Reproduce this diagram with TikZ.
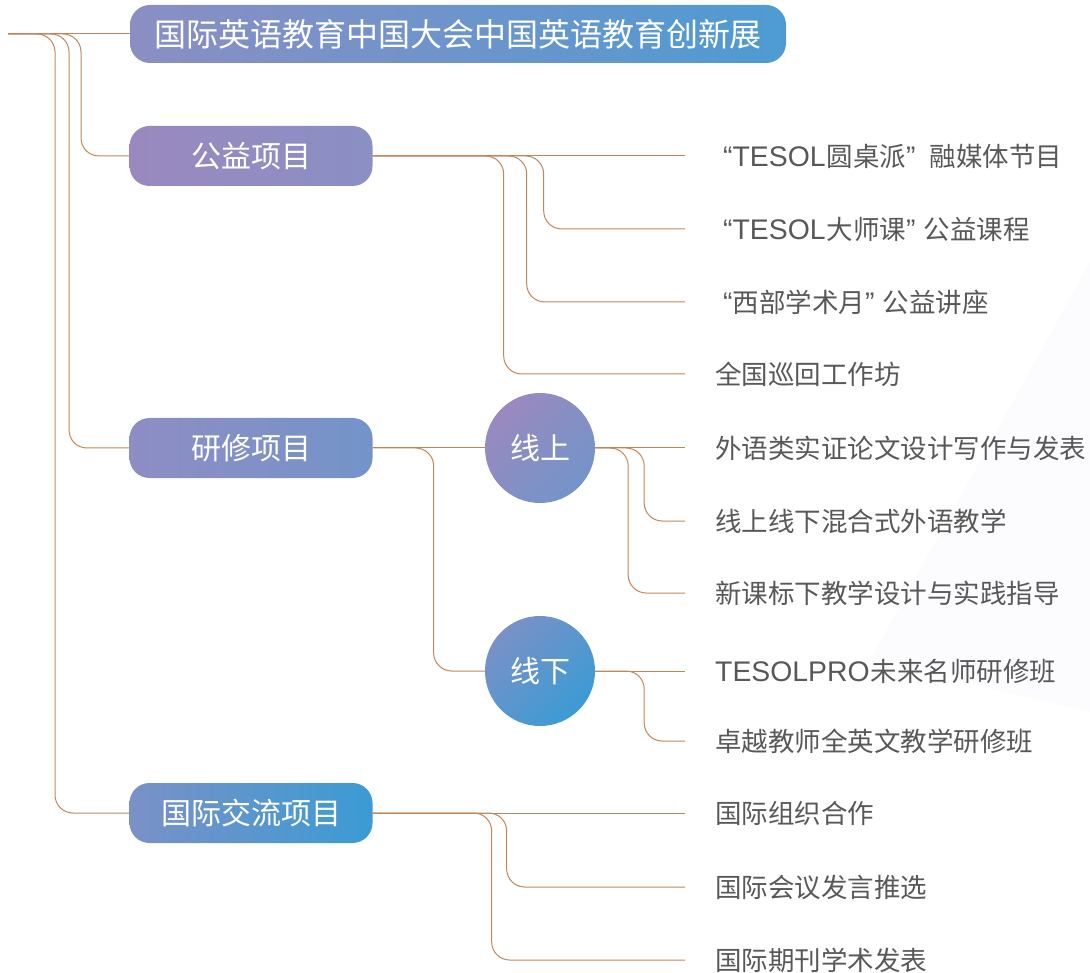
\documentclass[tikz,border=0pt]{standalone}
\usepackage{fontspec}
\setmainfont{Noto Sans CJK SC}
\newfontfamily\latinfont[Scale=1.07]{Liberation Sans}
\usepackage{tikz}
\usetikzlibrary{shapes}
\usetikzlibrary{positioning}

\definecolor{linkbrown}{HTML}{C0875A}
\definecolor{leafgray}{HTML}{585858}
\definecolor{watermark}{HTML}{FCFCFE}
\definecolor{titleA}{HTML}{8B8EC3}
\definecolor{titleB}{HTML}{4E9BD3}
\definecolor{gongyiA}{HTML}{9A89BF}
\definecolor{gongyiB}{HTML}{8A8FC4}
\definecolor{yanxiuA}{HTML}{8E8DC4}
\definecolor{yanxiuB}{HTML}{7394C9}
\definecolor{jiaoliuA}{HTML}{7A91C7}
\definecolor{jiaoliuB}{HTML}{3B9BD4}

\newcommand{\openq}{\hspace{8pt}{\latinfont “}}
\newcommand{\closeq}{{\latinfont ”}\hspace{8pt}}
\newcommand{\tesol}[1]{{\latinfont #1}\hspace{1pt}}

\tikzset{
  link/.style={draw=linkbrown, line width=1pt, rounded corners=18pt},
  topic/.style={text=white, minimum width=243pt, minimum height=60pt, rounded corners=20pt,
    font=\fontsize{30}{34}\selectfont},
  subtopic/.style={circle, text=white, minimum size=110pt, inner sep=0pt,
    font=\fontsize{30}{34}\selectfont},
  leaf/.style={anchor=west, text=leafgray, inner xsep=30pt, inner ysep=0pt,
    font=\fontsize{26.5}{30}\selectfont}
}

\begin{document}
\begin{tikzpicture}[x=1pt, y=-1pt]
    \useasboundingbox (0,0) rectangle (1090,973);
    \fill [watermark] (1090,262) -- (870,660) -- (1090,712) -- cycle;

    \coordinate (root) at (8,34);
    \node [topic, minimum width=656pt, minimum height=58pt, left color=titleA, right color=titleB,
      font=\fontsize{32}{36}\selectfont] (title) at (458,34) {国际英语教育中国大会中国英语教育创新展};

    \node [topic, left color=gongyiA, right color=gongyiB] (gongyi) at (251,156) {公益项目};
    \node [topic, left color=yanxiuA, right color=yanxiuB] (yanxiu) at (251,448) {研修项目};
    \node [topic, left color=jiaoliuA, right color=jiaoliuB] (jiaoliu) at (251,813) {国际交流项目};

    \node [subtopic, left color=gongyiA, right color=yanxiuB, shading angle=45] (online) at (540,448) {线上};
    \node [subtopic, left color=jiaoliuA, right color=jiaoliuB, shading angle=45] (offline) at (540,671) {线下};

    \node [leaf] (gy1) at (685,156) {\openq\tesol{TESOL}圆桌派\closeq\hspace{6pt}融媒体节目};
    \node [leaf] (gy2) at (685,229) {\openq\tesol{TESOL}大师课\closeq 公益课程};
    \node [leaf] (gy3) at (685,302) {\openq 西部学术月\closeq 公益讲座};
    \node [leaf] (gy4) at (685,374) {全国巡回工作坊};

    \node [leaf] (on1) at (685,448) {外语类实证论文设计写作与发表};
    \node [leaf] (on2) at (685,521) {线上线下混合式外语教学};
    \node [leaf] (on3) at (685,593) {新课标下教学设计与实践指导};
    \node [leaf] (off1) at (685,671) {\tesol{TESOLPRO}未来名师研修班};
    \node [leaf] (off2) at (685,741) {卓越教师全英文教学研修班};

    \node [leaf] (jl1) at (685,813) {国际组织合作};
    \node [leaf] (jl2) at (685,887) {国际会议发言推选};
    \node [leaf] (jl3) at (685,960) {国际期刊学术发表};

    % root branches
    \draw [link] (root) -- (title.west);
    \draw [link] (root) -- ++(73,0) |- (gongyi.west);
    \draw [link] (root) -- ++(61,0) |- (yanxiu.west);
    \draw [link] (root) -- ++(47,0) |- (jiaoliu.west);

    \draw [link] (gongyi.east) -- (gy1.west);
    \draw [link] (gongyi.east) -- ++(171,0) |- (gy2.west);
    \draw [link] (gongyi.east) -- ++(154,0) |- (gy3.west);
    \draw [link] (gongyi.east) -- ++(131,0) |- (gy4.west);

    \draw [link] (yanxiu.east) -- (online.west);
    \draw [link] (yanxiu.east) -- ++(61,0) |- (offline.west);

    \draw [link] (online.east) -- (on1.west);
    \draw [link] (online.east) -- ++(49,0) |- (on2.west);
    \draw [link] (online.east) -- ++(33,0) |- (on3.west);
    \draw [link] (offline.east) -- (off1.west);
    \draw [link] (offline.east) -- ++(49,0) |- (off2.west);

    \draw [link] (jiaoliu.east) -- (jl1.west);
    \draw [link] (jiaoliu.east) -- ++(134,0) |- (jl2.west);
    \draw [link] (jiaoliu.east) -- ++(119,0) |- (jl3.west);

\end{tikzpicture}
\end{document}
